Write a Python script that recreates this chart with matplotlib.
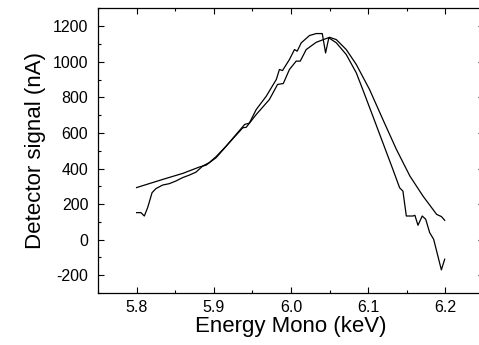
import matplotlib as mpl
mpl.use('Agg')
import matplotlib.pyplot as plt
from matplotlib.ticker import MultipleLocator

# smooth (wider) scan
energy_a = [5.800, 5.834, 5.860, 5.881, 5.890, 5.903, 5.920, 5.9375, 5.942,
            5.955, 5.972, 5.9826, 5.990, 5.998, 6.0067, 6.012, 6.0197, 6.0327,
            6.050, 6.0587, 6.0716, 6.0846, 6.1018, 6.119, 6.1365, 6.154,
            6.171, 6.1887, 6.1948, 6.1991]
signal_a = [293, 339, 373, 408, 419, 461, 545, 629, 632,
            704, 788, 873, 878, 957, 1004, 1004, 1069, 1110,
            1138, 1125, 1069, 985, 844, 676, 508, 358,
            245, 142, 130, 109]

# noisy (narrower) scan
energy_b = [5.800, 5.8056, 5.810, 5.8143, 5.820, 5.825, 5.8337, 5.8424, 5.851,
            5.8597, 5.8683, 5.877, 5.8856, 5.894, 5.903, 5.916, 5.929, 5.940,
            5.946, 5.955, 5.968, 5.981, 5.985, 5.989, 5.998, 6.0045, 6.008,
            6.0133, 6.024, 6.0327, 6.0405, 6.0448, 6.049, 6.0587, 6.0716,
            6.0846, 6.093, 6.106, 6.119, 6.132, 6.1407, 6.145, 6.1494, 6.158,
            6.1605, 6.1645, 6.170, 6.1745, 6.1796, 6.1848, 6.1948, 6.1991]
signal_b = [152, 152, 133, 180, 264, 287, 307, 315, 330,
            349, 363, 380, 414, 433, 467, 526, 592, 648,
            655, 732, 807, 901, 957, 951, 1013, 1069, 1060,
            1107, 1148, 1159, 1159, 1050, 1135, 1107, 1041,
            938, 844, 695, 545, 395, 292, 273, 133, 133,
            137, 81, 133, 115, 40, 2, -170, -110]

plt.rcParams['font.family'] = 'Liberation Sans'
plt.rcParams['axes.unicode_minus'] = False

fig = plt.figure(figsize=(4.79, 3.45), dpi=100)
ax = fig.add_axes([0.2046, 0.1507, 0.8058, 0.8247])

ax.plot(energy_a, signal_a, color='black', lw=0.9)
ax.plot(energy_b, signal_b, color='black', lw=0.9)

ax.set_xlim(5.75, 6.25)
ax.set_ylim(-300, 1300)
ax.xaxis.set_minor_locator(MultipleLocator(0.05))
ax.yaxis.set_major_locator(MultipleLocator(200))
ax.yaxis.set_minor_locator(MultipleLocator(100))
ax.set_xticks([5.8, 5.9, 6.0, 6.1, 6.2])
ax.set_xticklabels(['5.8', '5.9', '6.0', '6.1', '6.2'])

ax.tick_params(which='both', direction='in', top=True, right=True,
               labelsize=11.5, width=0.8)
ax.tick_params(which='major', length=4.5)
ax.tick_params(axis='x', which='major', pad=5)
ax.tick_params(axis='y', which='major', pad=7)
ax.tick_params(which='minor', length=2)
for s in ax.spines.values():
    s.set_linewidth(0.9)

ax.set_xlabel('Energy Mono (keV)', fontsize=16, labelpad=1)
ax.set_ylabel('Detector signal (nA)', fontsize=16, labelpad=5)

plt.savefig('out.png', dpi=100)
